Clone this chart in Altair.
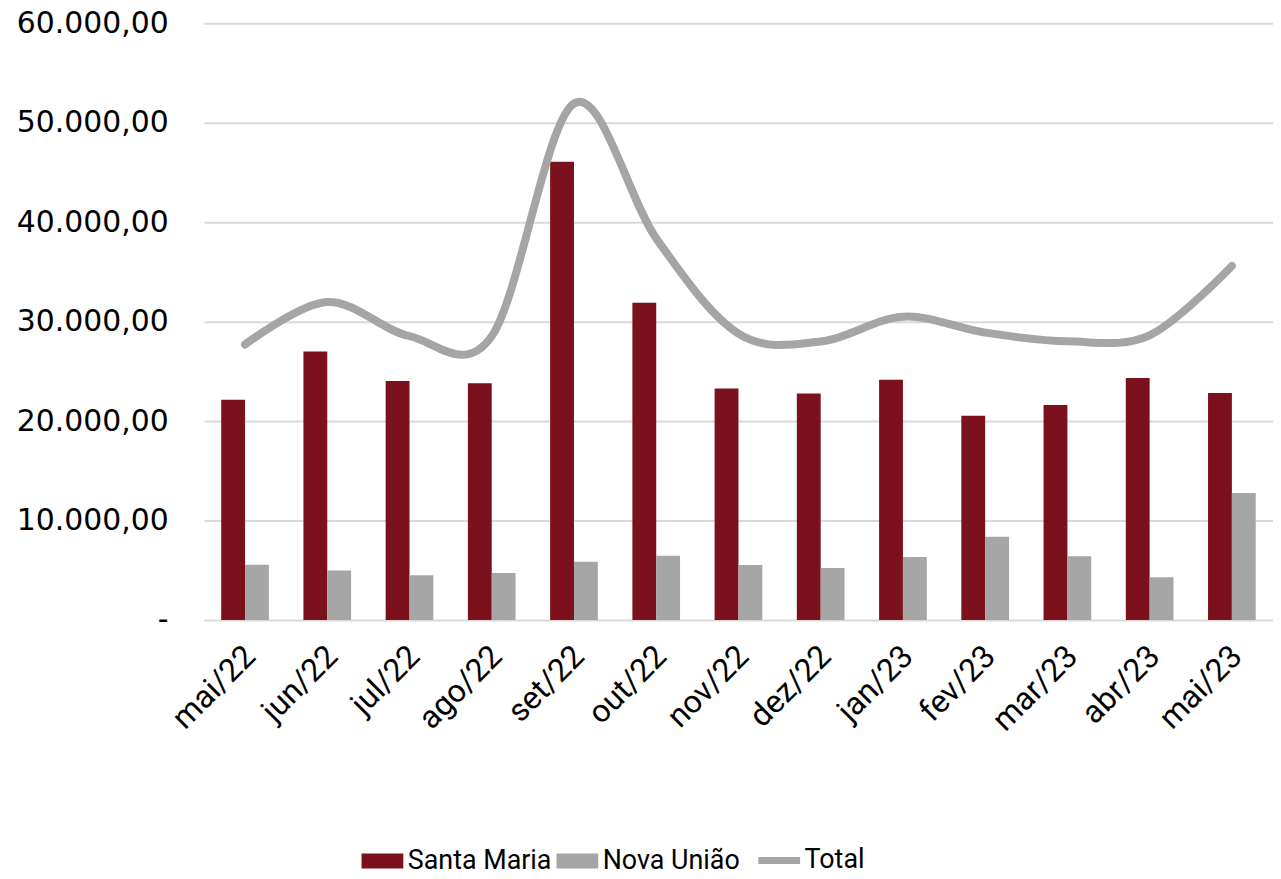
import altair as alt
import pandas as pd

months = ["mai/22", "jun/22", "jul/22", "ago/22", "set/22", "out/22", "nov/22",
          "dez/22", "jan/23", "fev/23", "mar/23", "abr/23", "mai/23"]
santa_maria = [22150, 26990, 24040, 23800, 46080, 31900, 23270, 22770, 24170, 20530, 21630, 24330, 22830]
nova_uniao = [5550, 4990, 4500, 4740, 5860, 6470, 5530, 5230, 6330, 8370, 6400, 4300, 12770]
total = [27700, 31980, 28540, 28540, 51940, 38370, 28800, 28000, 30500, 28900, 28030, 28630, 35600]

series_names = ["Santa Maria", "Nova União", "Total"]
series_colors = ["#7B111C", "#A6A6A6", "#A5A5A5"]

rows = []
for m, a, b in zip(months, santa_maria, nova_uniao):
    rows.append({"month": m, "series": "Santa Maria", "value": a})
    rows.append({"month": m, "series": "Nova União", "value": b})
bars_df = pd.DataFrame(rows)
line_df = pd.DataFrame({"month": months, "series": "Total", "value": total})

LABEL_FONT = "Roboto, sans-serif"
Y_FONT = "DejaVu Sans"

x_enc = alt.X("month:N", sort=months, title=None,
              scale=alt.Scale(paddingInner=0.42, paddingOuter=0.21),
              axis=alt.Axis(labelAngle=-45, labelAlign="right", labelBaseline="middle",
                            labelFont=LABEL_FONT, labelFontSize=32, labelColor="#000000",
                            labelPadding=31, labelOffset=5, ticks=False, domain=False, grid=False))
y_enc = alt.Y("value:Q", title=None,
              scale=alt.Scale(domain=[0, 60000], nice=False),
              axis=alt.Axis(values=[0, 10000, 20000, 30000, 40000, 50000, 60000],
                            labelExpr="datum.value == 0 ? '-\u00a0\u00a0\u00a0' : replace(replace(replace(format(datum.value, ',.2f'), ',', '#'), '.', ','), '#', '.')",
                            labelFont=Y_FONT, labelFontSize=30, labelColor="#000000",
                            labelPadding=36, ticks=False, domain=False,
                            gridColor="#D9D9D9", gridWidth=2))

color_enc = alt.Color("series:N", title=None,
                      scale=alt.Scale(domain=series_names, range=series_colors),
                      legend=alt.Legend(
                          orient="none", direction="horizontal",
                          legendX=166, legendY=828,
                          labelFont=LABEL_FONT, labelFontSize=27, labelColor="#000000",
                          labelLimit=400,
                          symbolSize=1764, labelOffset=12, columnPadding=4,
                          symbolType={"expr": "datum.value == 'Total' ? 'stroke' : 'M-1,-0.36H1V0.36H-1Z'"},
                          symbolStrokeWidth={"expr": "datum.value == 'Total' ? 7 : 0"},
                          symbolStrokeColor={"expr": "scale('color', datum.value)"},
                          symbolFillColor={"expr": "datum.value == 'Total' ? 'transparent' : scale('color', datum.value)"},
                      ))

bars = alt.Chart(bars_df).mark_bar().encode(
    x=x_enc,
    xOffset=alt.XOffset("series:N", sort=["Santa Maria", "Nova União"],
                        scale=alt.Scale(paddingInner=0, paddingOuter=0)),
    y=y_enc,
    color=color_enc,
)

line = alt.Chart(line_df).mark_line(strokeWidth=8, interpolate="cardinal", strokeCap="round",
                                    strokeJoin="round").encode(
    x=alt.X("month:N", sort=months),
    y=alt.Y("value:Q"),
    color=alt.Color("series:N"),
)

chart = alt.layer(bars, line).properties(
    width=1075, height=600,
    autosize="none",
    background="white",
    padding={"left": 197, "top": 13, "right": 0, "bottom": 257},
).configure_view(stroke=None)

chart.save("out.html", embed_options={"renderer": "svg", "actions": False})
